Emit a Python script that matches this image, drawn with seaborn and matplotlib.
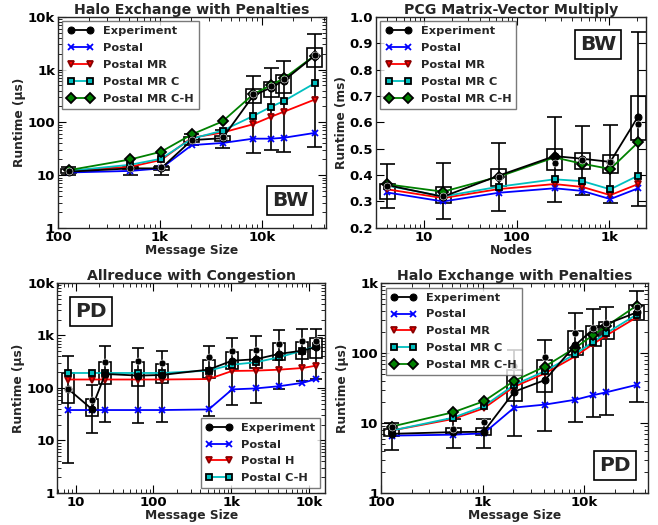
import numpy as np
import matplotlib
matplotlib.use("Agg")
import matplotlib.pyplot as plt
from matplotlib.ticker import FuncFormatter, MultipleLocator, NullFormatter
import seaborn as sns

# ---- Halo exchange, Blue Waters (top left) ----
halo_sizes = [128, 512, 1024, 2048, 4096, 8192, 12288, 16384, 32768]
bw_exp = [11.6, 13.4, 13.4, 46, 50, 320, 456, 620, 1830]
bw_exp_dot = [12.0, 13.8, 14.0, 47, 52, 340, 490, 660, 1880]
bw_q1 = [11, 13, 12.5, 43, 45, 230, 305, 355, 1140]
bw_q3 = [13, 14.5, 14, 53, 55, 420, 590, 790, 2550]
bw_lo = [10, 10, 10, 37, 32, 26.5, 30, 27, 34.5]
bw_hi = [14, 15, 15, 60, 71, 760, 1090, 1450, 4640]
bw_postal = [11.2, 12, 13.4, 37, 40.6, 49, 49, 51, 63]
bw_mr = [12, 14.4, 19.3, 51, 64, 92, 128, 159, 270]
bw_mr_c = [12, 15.7, 20.4, 49, 69.5, 132, 198, 254, 550]
bw_mr_ch = [12.4, 19.8, 27.7, 59, 104, 340, 510, 684, 1845]

# ---- PCG matrix-vector multiply, Blue Waters (top right) ----
pcg_nodes = [4, 16, 64, 256, 512, 1024, 2048]
pcg_exp = [0.362, 0.318, 0.398, 0.472, 0.462, 0.450, 0.622]
pcg_exp_dot = [0.358, 0.322, 0.392, 0.445, 0.458, 0.448, 0.594]
pcg_q1 = [0.311, 0.295, 0.360, 0.419, 0.423, 0.407, 0.533]
pcg_q3 = [0.365, 0.356, 0.422, 0.499, 0.485, 0.476, 0.698]
pcg_lo = [0.277, 0.233, 0.265, 0.299, 0.324, 0.296, 0.282]
pcg_hi = [0.442, 0.447, 0.521, 0.622, 0.587, 0.589, 0.944]
pcg_postal = [0.334, 0.300, 0.333, 0.350, 0.340, 0.309, 0.350]
pcg_mr = [0.346, 0.313, 0.347, 0.366, 0.355, 0.324, 0.366]
pcg_mr_c = [0.360, 0.319, 0.356, 0.384, 0.377, 0.346, 0.398]
pcg_mr_ch = [0.365, 0.337, 0.394, 0.467, 0.443, 0.423, 0.524]

# ---- Allreduce with congestion, Piz Daint (bottom left) ----
ar_sizes = [8, 16, 24, 64, 128, 512, 1024, 2048, 4096, 8192, 12288]
ar_exp = [96, 40, 185, 172, 177, 224, 331, 352, 445, 515, 600]
ar_exp_dot = [96, 60, 310, 320, 295, 395, 515, 540, 690, 780, 800]
ar_q1 = [52, 29, 119, 108, 124, 153, 230, 237, 346, 355, 367]
ar_q3 = [193, 62, 317, 310, 287, 346, 490, 540, 720, 740, 880]
ar_lo = [3.8, 13.7, 22, 21.5, 22.8, 29, 48, 52, 95, 138, 148]
ar_hi = [400, 114, 640, 575, 515, 620, 880, 960, 1280, 1320, 1320]
ar_postal = [38, 38, 38, 38, 38, 39, 94, 98, 108, 125, 148]
ar_h = [145, 145, 145, 145, 145, 148, 211, 214, 223, 240, 266]
ar_ch = [193, 193, 193, 193, 193, 214, 278, 308, 384, 515, 622]

# ---- Halo exchange, Piz Daint (bottom right) ----
pd_exp = [7.0, 7.4, 7.5, 28, 41, 130, 220, 257, 380]
pd_exp_dot = [8.9, 8.2, 10.2, 66, 87, 193, 227, 272, 450]
pd_q1 = [6.45, 6.95, 6.8, 20.8, 27.4, 93, 127, 158, 300]
pd_q3 = [8.2, 8.5, 8.5, 57.6, 79, 207, 246, 273, 485]
pd_lo = [4.15, 4.35, 4.35, 6.6, 7.7, 10.2, 12, 13, 19.8]
pd_hi = [10, 11.4, 11.4, 111, 155, 373, 424, 458, 780]
pd_postal = [6.6, 6.8, 7.1, 16.6, 18.3, 21.5, 25, 27.4, 35]
pd_mr = [7.8, 11.4, 16.2, 33, 51, 90, 135, 177, 323]
pd_mr_c = [7.8, 11.9, 17.3, 35, 55, 97, 145, 191, 353]
pd_mr_ch = [8.9, 14.2, 20.4, 40, 64, 119, 181, 240, 475]

sns.set_style("ticks")
plt.rcParams.update({
    "font.family": ["DejaVu Sans"],
    "font.weight": "bold",
    "axes.labelweight": "bold",
    "axes.titleweight": "bold",
    "font.size": 9,
    "axes.labelsize": 8.8,
    "xtick.labelsize": 9.5,
    "ytick.labelsize": 9.5,
    "axes.linewidth": 1.0,
    "xtick.direction": "in",
    "ytick.direction": "in",
    "xtick.top": True,
    "ytick.right": True,
    "xtick.major.size": 6,
    "ytick.major.size": 6,
    "xtick.minor.size": 3,
    "ytick.minor.size": 3,
    "xtick.major.pad": 2,
    "ytick.major.pad": 2,
    "xtick.color": "k",
    "ytick.color": "k",
    "legend.numpoints": 2,
})

fig = plt.figure(figsize=(6.58, 5.25), dpi=100)
axes = [
    fig.add_axes([0.088, 0.566, 0.407, 0.402]),
    fig.add_axes([0.571, 0.566, 0.411, 0.402]),
    fig.add_axes([0.087, 0.061, 0.407, 0.400]),
    fig.add_axes([0.579, 0.061, 0.406, 0.400]),
]


def k_fmt(v, pos):
    if v >= 1000:
        return f"{v / 1000:g}k"
    return f"{v:g}"


def draw_boxes(ax, x, q1, q3, lo, hi, box_px=15):
    x = np.array(x, dtype=float)
    q1, q3 = np.array(q1), np.array(q3)
    x0, x1 = ax.get_xlim()
    ax_px = ax.get_position().width * fig.get_figwidth() * fig.dpi
    hw = (box_px / 2) * np.log10(x1 / x0) / ax_px
    left = x * 10 ** (-hw)
    right = x * 10 ** hw
    ax.bar(left, q3 - q1, width=right - left, bottom=q1, align="edge",
           fill=False, edgecolor="k", linewidth=1.2, zorder=2)
    ax.vlines(x, lo, hi, color="k", linewidth=1.2, zorder=2)
    ax.hlines(lo, left, right, color="k", linewidth=1.2, zorder=2)
    ax.hlines(hi, left, right, color="k", linewidth=1.2, zorder=2)


def draw_lines(ax, x, exp, exp_dot, models):
    sns.lineplot(x=x, y=exp, ax=ax, color="k", marker="o", markersize=5,
                 markeredgecolor="k", linewidth=1.3, label="Experiment", zorder=4)
    sns.scatterplot(x=x, y=exp_dot, ax=ax, color="k", s=25, legend=False, zorder=4)
    for label, vals, color, marker, mec in models:
        sns.lineplot(x=x, y=vals, ax=ax, color=color, marker=marker,
                     markersize=5, markeredgecolor=mec, markeredgewidth=1.3,
                     linewidth=1.3, label=label, zorder=3)


def tag(ax, text, x, y):
    ax.text(x, y, text, transform=ax.transAxes, ha="center", va="center",
            fontsize=14.5, fontweight="bold",
            bbox=dict(boxstyle="square,pad=0.25", facecolor="white", edgecolor="k", linewidth=1.2))


def style_log(ax, xlim, ylim):
    ax.set_xscale("log")
    ax.set_yscale("log")
    ax.set_xlim(*xlim)
    ax.set_ylim(*ylim)
    ax.xaxis.set_major_formatter(FuncFormatter(k_fmt))
    ax.yaxis.set_major_formatter(FuncFormatter(k_fmt))
    ax.yaxis.set_minor_formatter(NullFormatter())
    ax.xaxis.set_minor_formatter(NullFormatter())


def finish(ax, title, xlabel, ylabel, loc):
    ax.set_title(title, fontsize=10.2, pad=2)
    ax.set_xlabel(xlabel, labelpad=0)
    ax.set_ylabel(ylabel, labelpad=1)
    ax.legend(loc=loc, frameon=True, fancybox=False, edgecolor="0.35", fontsize=8.2,
              handlelength=2.3, borderaxespad=0.4, labelspacing=0.6, borderpad=0.45)


models_mr = ["Postal", "Postal MR", "Postal MR C", "Postal MR C-H"]
colors_mr = ["b", "r", "c", "g"]
markers_mr = ["x", "v", "s", "D"]
edges_mr = ["b", "darkred", "k", "k"]

# Top left
ax = axes[0]
style_log(ax, (100, 42000), (1, 10000))
draw_boxes(ax, halo_sizes, bw_q1, bw_q3, bw_lo, bw_hi)
draw_lines(ax, halo_sizes, bw_exp, bw_exp_dot,
           list(zip(models_mr, [bw_postal, bw_mr, bw_mr_c, bw_mr_ch], colors_mr, markers_mr, edges_mr)))
finish(ax, "Halo Exchange with Penalties", "Message Size", "Runtime (µs)", "upper left")
tag(ax, "BW", 0.866, 0.128)

# Top right
ax = axes[1]
ax.set_xscale("log")
ax.set_xlim(3, 2500)
ax.set_ylim(0.2, 1.0)
ax.xaxis.set_major_formatter(FuncFormatter(k_fmt))
ax.xaxis.set_minor_formatter(NullFormatter())
ax.yaxis.set_major_locator(MultipleLocator(0.1))
ax.yaxis.set_major_formatter(FuncFormatter(lambda v, p: f"{v:.1f}"))
draw_boxes(ax, pcg_nodes, pcg_q1, pcg_q3, pcg_lo, pcg_hi)
draw_lines(ax, pcg_nodes, pcg_exp, pcg_exp_dot,
           list(zip(models_mr, [pcg_postal, pcg_mr, pcg_mr_c, pcg_mr_ch], colors_mr, markers_mr, edges_mr)))
finish(ax, "PCG Matrix-Vector Multiply", "Nodes", "Runtime (ms)", "upper left")
tag(ax, "BW", 0.822, 0.867)

# Bottom left
ax = axes[2]
style_log(ax, (5.8, 16000), (1, 10000))
draw_boxes(ax, ar_sizes, ar_q1, ar_q3, ar_lo, ar_hi, box_px=12)
draw_lines(ax, ar_sizes, ar_exp, ar_exp_dot,
           list(zip(["Postal", "Postal H", "Postal C-H"], [ar_postal, ar_h, ar_ch],
                    ["b", "r", "c"], ["x", "v", "s"], ["b", "darkred", "k"])))
finish(ax, "Allreduce with Congestion", "Message Size", "Runtime (µs)", "lower right")
tag(ax, "PD", 0.127, 0.862)

# Bottom right
ax = axes[3]
style_log(ax, (100, 42500), (1, 1000))
draw_boxes(ax, halo_sizes, pd_q1, pd_q3, pd_lo, pd_hi)
draw_lines(ax, halo_sizes, pd_exp, pd_exp_dot,
           list(zip(models_mr, [pd_postal, pd_mr, pd_mr_c, pd_mr_ch], colors_mr, markers_mr, edges_mr)))
finish(ax, "Halo Exchange with Penalties", "Message Size", "Runtime (µs)", "upper left")
tag(ax, "PD", 0.876, 0.133)

fig.savefig("out.png", dpi=100)
